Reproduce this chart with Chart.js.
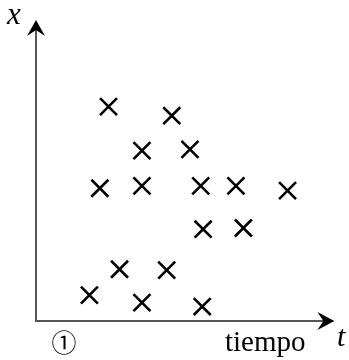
<!DOCTYPE html>
<html>
<head>
<meta charset="utf-8">
<script src="https://cdn.jsdelivr.net/npm/chart.js@4"></script>
<style>
  html, body { margin: 0; padding: 0; background: #fff; }
  #wrap { width: 349px; height: 360px; position: relative; }
</style>
</head>
<body>
<div id="wrap"><canvas id="grafico"></canvas></div>
<script>
// datos (t horizontal, x vertical, escala 0-10)
const tiempo = [2.43, 4.55, 3.55, 5.16, 2.14, 3.55, 5.52, 6.70, 8.43, 5.60, 6.95, 2.80, 4.38, 1.79, 3.55, 5.57];
const valores = [7.12, 6.82, 5.66, 5.70, 4.41, 4.49, 4.49, 4.49, 4.33, 3.05, 3.09, 1.72, 1.69, 0.86, 0.61, 0.48];
const ejeX = "t";
const ejeY = "x";
const etiquetaTiempo = "tiempo";
const marca = "\u2460";

const puntos = tiempo.map((t, i) => ({ x: t, y: valores[i] }));

// ejes con flechas y textos
const ejesPlugin = {
  id: "ejes",
  afterDraw(chart) {
    const { ctx, chartArea: a } = chart;
    ctx.save();
    ctx.strokeStyle = "#555";
    ctx.lineWidth = 2;
    ctx.beginPath();
    ctx.moveTo(a.left, a.top + 8);
    ctx.lineTo(a.left, a.bottom);
    ctx.lineTo(a.right - 8, a.bottom);
    ctx.stroke();

    ctx.fillStyle = "#000";
    // flecha arriba
    ctx.beginPath();
    ctx.moveTo(a.left, a.top);
    ctx.lineTo(a.left - 9, a.top + 16);
    ctx.lineTo(a.left, a.top + 10);
    ctx.lineTo(a.left + 9, a.top + 16);
    ctx.closePath();
    ctx.fill();
    // flecha derecha
    ctx.beginPath();
    ctx.moveTo(a.right, a.bottom);
    ctx.lineTo(a.right - 17, a.bottom - 9);
    ctx.lineTo(a.right - 11, a.bottom);
    ctx.lineTo(a.right - 17, a.bottom + 9);
    ctx.closePath();
    ctx.fill();

    ctx.textBaseline = "alphabetic";
    ctx.font = 'italic 31px "Liberation Serif"';
    ctx.textAlign = "left";
    ctx.fillText(ejeY, 7, 24);
    ctx.font = 'italic 30px "Liberation Serif"';
    ctx.fillText(ejeX, 337, 346);
    ctx.font = '29px "Liberation Serif"';
    ctx.fillText(etiquetaTiempo, 225, 351);
    ctx.font = '25px "Noto Sans CJK JP"';
    ctx.textAlign = "center";
    ctx.textBaseline = "middle";
    ctx.fillText(marca, 64, 342);
    ctx.restore();
  },
};

new Chart(document.getElementById("grafico"), {
  type: "scatter",
  data: {
    datasets: [
      {
        data: puntos,
        pointStyle: "crossRot",
        pointRadius: 12,
        borderColor: "#000",
        borderWidth: 2.6,
        backgroundColor: "#000",
        clip: false,
      },
    ],
  },
  options: {
    responsive: true,
    maintainAspectRatio: false,
    animation: false,
    layout: { padding: { left: 36, right: 11, top: 20, bottom: 39 } },
    plugins: { legend: { display: false }, tooltip: { enabled: false } },
    scales: {
      x: { type: "linear", min: 0, max: 10, display: false },
      y: { type: "linear", min: 0, max: 10, display: false },
    },
  },
  plugins: [ejesPlugin],
});
</script>
</body>
</html>
